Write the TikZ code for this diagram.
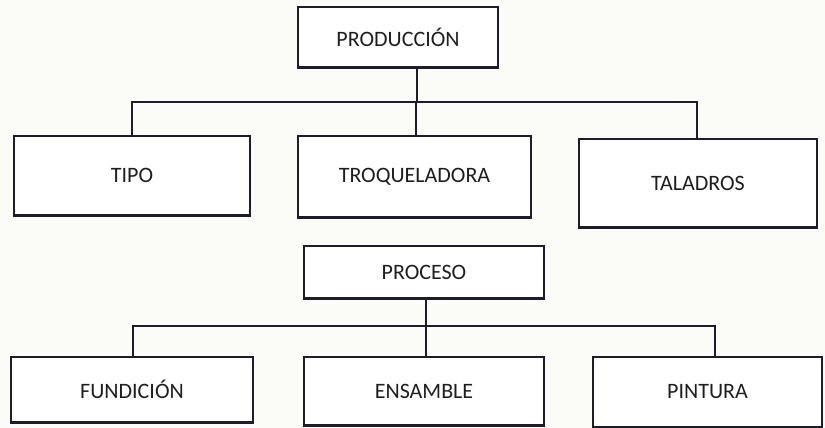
\documentclass[tikz,border=0pt]{standalone}
\usepackage{fontspec}
\setmainfont{Carlito}
\begin{document}
\begin{tikzpicture}[x=1pt,y=-1pt,
  box/.style={draw=linec, line width=1.4pt, fill=white, inner sep=0pt,
    font=\fontsize{22}{24}\selectfont, text=textc},
  conn/.style={draw=linec, line width=2.6pt},
  botline/.style={draw=linec, line width=3.2pt}]
\definecolor{linec}{HTML}{1C1C2E}
\definecolor{textc}{HTML}{1E1E1E}
\definecolor{bgc}{HTML}{FBFBF8}
\fill[bgc] (0,0) rectangle (825,428);
\useasboundingbox (0,0) rectangle (825,428);

% top tree
\node[box, minimum width=200pt, minimum height=60pt] (prod) at (398,37) {PRODUCCIÓN};
\node[box, minimum width=236pt, minimum height=79pt] (tipo) at (132,175.5) {TIPO};
\node[box, minimum width=233pt, minimum height=81pt] (troq) at (414.5,176.5) {TROQUELADORA};
\node[box, minimum width=238pt, minimum height=88pt] (tal) at (698,183) {TALADROS};

% bottom tree
\node[box, minimum width=240pt, minimum height=52pt] (proc) at (424,272) {PROCESO};
\node[box, minimum width=242pt, minimum height=65pt] (fund) at (132,389.5) {FUNDICIÓN};
\node[box, minimum width=240pt, minimum height=68pt] (ens) at (424,391) {ENSAMBLE};
\node[box, minimum width=229pt, minimum height=70pt] (pin) at (707.5,392) {PINTURA};

\foreach \n in {prod,tipo,troq,tal,proc,fund,ens}
  \draw[botline] ([xshift=-0.5pt]\n.south west) -- ([xshift=0.5pt]\n.south east);

% junctions
\coordinate (jp) at (417,102);
\coordinate (jt) at (132,102);
\coordinate (jq) at (416,102);
\coordinate (jl) at (697,102);
\coordinate (kp) at (426,326);
\coordinate (kf) at (133,326);
\coordinate (kn) at (715,326);

\draw[conn] (prod.south -| jp) -- (jp);
\draw[conn] (jt |- tipo.north) -- (jt) -- (jl) -- (jl |- tal.north);
\draw[conn] (jq) -- (jq |- troq.north);

\draw[conn] (proc.south -| kp) -- (kp |- ens.north);
\draw[conn] (kf |- fund.north) -- (kf) -- (kn) -- (kn |- pin.north);
\end{tikzpicture}
\end{document}
